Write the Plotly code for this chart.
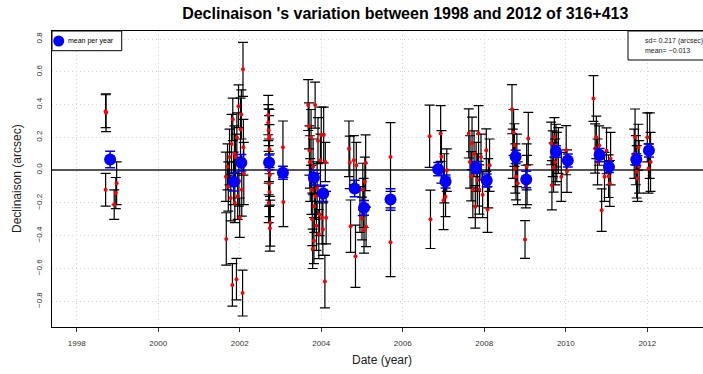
import plotly.graph_objects as go

# ---- individual measurements: date (year), declination offset (arcsec), error (arcsec)
dates = [
    1998.71, 1998.72, 1998.71, 1998.98, 1998.96, 1998.92,
    2001.66, 2001.67, 2001.70, 2001.72, 2001.75, 2001.78, 2001.80, 2001.82, 2001.83, 2001.85,
    2001.87, 2001.88, 2001.90, 2001.92, 2001.93, 2001.95, 2001.97, 2001.98, 2002.00, 2002.02,
    2002.04, 2002.05, 2002.07, 2002.08, 2002.09, 2002.10,
    2002.70, 2002.71, 2002.72, 2002.73, 2002.72, 2002.71, 2002.74, 2002.72, 2002.73, 2002.75,
    2002.74, 2002.70, 2002.73, 2002.71, 2003.06, 2003.07,
    2003.68, 2003.70, 2003.71, 2003.72, 2003.73, 2003.75, 2003.76, 2003.78, 2003.79, 2003.80,
    2003.82, 2003.83, 2003.85, 2003.86, 2003.88, 2003.90, 2003.92, 2003.94, 2003.96, 2003.98,
    2004.00, 2004.02, 2004.04, 2004.06, 2004.09, 2004.12, 2004.10,
    2004.68, 2004.70, 2004.72, 2004.80, 2004.84, 2004.86, 2004.95, 2005.00, 2005.02, 2005.05,
    2005.07, 2005.09, 2005.10, 2005.04, 2005.70, 2005.70,
    2006.66, 2006.68, 2006.93, 2006.95, 2007.02, 2007.05, 2007.00, 2007.08,
    2007.62, 2007.65, 2007.68, 2007.70, 2007.72, 2007.75, 2007.78, 2007.80, 2007.83, 2007.86,
    2007.88, 2007.92, 2007.96, 2008.05, 2008.08, 2008.10, 2008.13,
    2008.68, 2008.70, 2008.72, 2008.74, 2008.76, 2008.78, 2008.80, 2008.82, 2009.00, 2009.02,
    2009.04, 2009.08, 2009.05,
    2009.64, 2009.66, 2009.68, 2009.70, 2009.72, 2009.74, 2009.76, 2009.78, 2009.82, 2009.89,
    2010.01, 2010.03,
    2010.68, 2010.72, 2010.75, 2010.78, 2010.82, 2010.88, 2010.95, 2011.00, 2011.05, 2011.08,
    2011.10,
    2011.68, 2011.70, 2011.72, 2011.74, 2011.76, 2011.78, 2011.80, 2012.00, 2012.03, 2012.06,
    2012.08,
]
decl = [
    0.36, 0.35, -0.12, -0.08, -0.14, -0.21,
    -0.04, -0.42, 0.02, -0.10, 0.08, -0.17, 0.16, -0.70, 0.31, -0.05,
    0.10, -0.20, 0.08, -0.665, 0.20, -0.16, 0.39, -0.07, -0.29, 0.25,
    0.34, -0.12, -0.75, 0.615, 0.14, -0.02,
    0.336, 0.244, 0.193, 0.128, 0.06, 0.0, -0.03, -0.081, -0.134, -0.323,
    -0.354, 0.29, 0.21, -0.20, 0.14, -0.195,
    0.397, 0.27, 0.12, 0.05, -0.06, 0.20, -0.12, -0.30, -0.48, 0.02,
    -0.43, -0.22, 0.397, -0.16, -0.34, -0.11, 0.18, -0.39, -0.27, 0.06,
    0.214, -0.29, -0.36, 0.214, -0.68, -0.29, 0.05,
    0.13, 0.047, -0.342, 0.061, -0.525, 0.03, -0.24, -0.295, -0.118, -0.366,
    -0.071, 0.045, -0.346, -0.20, 0.08, -0.44,
    0.207, -0.30, 0.224, 0.081, -0.05, -0.163, -0.183, 0.0,
    0.224, 0.05, -0.037, 0.163, -0.12, 0.10, -0.224, 0.02, -0.06, 0.224,
    -0.118, 0.08, -0.15, 0.122, -0.24, -0.08, 0.03,
    0.372, 0.10, 0.23, 0.153, 0.01, -0.041, 0.06, -0.08, -0.423, -0.10,
    0.02, 0.193, -0.06,
    0.163, -0.092, 0.10, 0.016, 0.20, 0.05, 0.15, 0.08, 0.12, -0.041,
    0.122, -0.006,
    0.437, 0.132, 0.20, 0.05, 0.15, -0.244, -0.041, 0.118, -0.037, -0.081,
    0.07,
    0.10, 0.203, 0.061, -0.01, -0.051, 0.14, 0.02, 0.20, 0.01, 0.15,
    0.05,
]
errs = [
    0.10, 0.115, 0.10, 0.13, 0.095, 0.09,
    0.15, 0.16, 0.14, 0.15, 0.17, 0.14, 0.18, 0.13, 0.13, 0.16,
    0.17, 0.12, 0.14, 0.127, 0.15, 0.14, 0.13, 0.15, 0.12, 0.19,
    0.15, 0.16, 0.14, 0.165, 0.17, 0.19,
    0.12, 0.13, 0.14, 0.15, 0.13, 0.15, 0.13, 0.14, 0.15, 0.14,
    0.14, 0.11, 0.16, 0.12, 0.16, 0.15,
    0.155, 0.14, 0.15, 0.16, 0.13, 0.17, 0.15, 0.16, 0.12, 0.17,
    0.14, 0.16, 0.14, 0.14, 0.15, 0.16, 0.14, 0.15, 0.13, 0.16,
    0.17, 0.16, 0.16, 0.17, 0.16, 0.16, 0.12,
    0.17, 0.16, 0.16, 0.15, 0.19, 0.14, 0.14, 0.13, 0.16, 0.14,
    0.15, 0.17, 0.12, 0.15, 0.21, 0.21,
    0.19, 0.178, 0.17, 0.16, 0.15, 0.12, 0.18, 0.13,
    0.15, 0.16, 0.15, 0.16, 0.17, 0.14, 0.13, 0.15, 0.16, 0.17,
    0.15, 0.14, 0.14, 0.13, 0.14, 0.15, 0.16,
    0.15, 0.15, 0.14, 0.13, 0.15, 0.14, 0.16, 0.13, 0.115, 0.13,
    0.14, 0.16, 0.15,
    0.13, 0.15, 0.14, 0.15, 0.12, 0.14, 0.13, 0.15, 0.14, 0.15,
    0.15, 0.13,
    0.14, 0.15, 0.13, 0.14, 0.12, 0.13, 0.15, 0.14, 0.13, 0.14,
    0.16,
    0.15, 0.17, 0.15, 0.16, 0.14, 0.14, 0.16, 0.15, 0.15, 0.20,
    0.18,
]

# ---- means per year (blue)
mean_dates = [1998.82, 2001.855, 2002.04, 2002.72, 2003.06, 2003.82, 2004.05, 2004.82, 2005.05,
              2005.70, 2006.87, 2007.05, 2007.80, 2008.06, 2008.77, 2009.03, 2009.76, 2010.05,
              2010.83, 2011.06, 2011.73, 2012.04]
mean_vals = [0.065, -0.071, 0.045, 0.047, -0.016, -0.045, -0.142, -0.112, -0.23,
             -0.179, 0.006, -0.069, 0.016, -0.063, 0.081, -0.057, 0.114, 0.059,
             0.092, 0.02, 0.065, 0.12]
mean_errs = [0.05, 0.056, 0.05, 0.045, 0.04, 0.045, 0.05, 0.05, 0.045,
             0.066, 0.04, 0.04, 0.035, 0.04, 0.04, 0.05, 0.035, 0.04,
             0.04, 0.035, 0.035, 0.04]

x_ticks = [1998, 2000, 2002, 2004, 2006, 2008, 2010, 2012]
y_ticks = [-0.8, -0.6, -0.4, -0.2, 0.0, 0.2, 0.4, 0.6, 0.8]
y_ticktext = [("\u2212" + f"{abs(v):.1f}") if v < 0 else f"{v:.1f}" for v in y_ticks]

W, H = 703, 374
ML, MT, MB, MR = 52, 31, 47, 0
PW = W - ML - MR
PH = H - MT - MB

fig = go.Figure()

fig.add_trace(go.Scatter(
    x=dates, y=decl, mode="markers",
    marker=dict(color="red", size=4),
    error_y=dict(type="data", array=errs, visible=True, color="black", thickness=1.2, width=5),
    showlegend=False, hoverinfo="x+y",
))

fig.add_trace(go.Scatter(
    x=mean_dates, y=mean_vals, mode="markers",
    marker=dict(color="blue", size=12),
    error_y=dict(type="data", array=mean_errs, visible=True, color="blue", thickness=1.5, width=5),
    showlegend=False,
))

font_fam = "Liberation Sans, Arial, Helvetica, sans-serif"
grid_col = "#d4d4d4"

fig.update_layout(
    width=W, height=H,
    margin=dict(l=ML, r=MR, t=MT, b=MB, pad=0),
    paper_bgcolor="white", plot_bgcolor="white",
    font=dict(family=font_fam, color="#222"),
    title=dict(text="<b>Declinaison 's variation between 1998 and 2012 of 316+413</b>",
               x=381.5 / W, xref="paper", xanchor="center", y=1 - 13 / H, yanchor="middle",
               font=dict(size=16, color="black", family=font_fam)),
    xaxis=dict(range=[1997.394, 2013.367], tickvals=x_ticks, ticktext=[str(v) for v in x_ticks],
               showgrid=True, gridcolor=grid_col, griddash="1px,3px", gridwidth=1,
               showline=True, linecolor="black", linewidth=1.3, mirror=True,
               ticks="outside", ticklen=4, tickcolor="#333", tickfont=dict(size=8, color="#333"),
               ticklabelstandoff=4, zeroline=False),
    yaxis=dict(range=[-0.957, 0.849], tickvals=y_ticks, ticktext=y_ticktext, tickangle=-90,
               showgrid=True, gridcolor=grid_col, griddash="1px,3px", gridwidth=1,
               showline=True, linecolor="black", linewidth=1.3,
               ticks="", tickfont=dict(size=8, color="#333"), ticklabelstandoff=6,
               zeroline=True, zerolinecolor="#555", zerolinewidth=1.5),
    shapes=[
        # legend box
        dict(type="rect", xref="paper", yref="paper", x0=0, x1=(121.7 - ML) / PW,
             y0=1 - 19.7 / PH, y1=1, line=dict(color="black", width=1),
             fillcolor="white"),
        # stats box
        dict(type="rect", xref="paper", yref="paper", x0=(628 - ML) / PW, x1=1.05,
             y0=1 - 29 / PH, y1=1, line=dict(color="black", width=1),
             fillcolor="white"),
    ],
    annotations=[
        dict(text="mean per year", xref="paper", yref="paper", x=(66 - ML) / PW,
             y=1 - 10 / PH, xanchor="left", yanchor="middle", showarrow=False,
             font=dict(size=7, color="black")),
        dict(text="sd= 0.217 (arcsec)", xref="paper", yref="paper", x=(642.7 - ML) / PW,
             y=1 - 10 / PH, xanchor="left", yanchor="middle", showarrow=False,
             font=dict(size=7, color="#222")),
        dict(text="mean= \u22120.013", xref="paper", yref="paper", x=(642.7 - ML) / PW,
             y=1 - 20 / PH, xanchor="left", yanchor="middle", showarrow=False,
             font=dict(size=7, color="#222")),
        dict(text="Date (year)", xref="paper", yref="paper", x=(382 - ML) / PW,
             y=-(360 - (H - MB)) / PH, xanchor="center", yanchor="middle",
             showarrow=False, font=dict(size=12, color="#222")),
        dict(text="Declinaison (arcsec)", xref="paper", yref="paper", x=-(ML - 17) / PW,
             y=0.5, xanchor="center", yanchor="middle", textangle=-90,
             showarrow=False, font=dict(size=12, color="#222")),
    ],
)

# legend symbol (blue dot) drawn as a pixel-sized circle anchored in paper coords
fig.add_shape(type="circle", xref="paper", yref="paper",
              xsizemode="pixel", ysizemode="pixel",
              xanchor=(58.7 - ML) / PW, yanchor=1 - 10 / PH,
              x0=-5.5, x1=5.5, y0=-5.5, y1=5.5,
              fillcolor="blue", line=dict(color="blue", width=0))

fig.write_html("out.html")
